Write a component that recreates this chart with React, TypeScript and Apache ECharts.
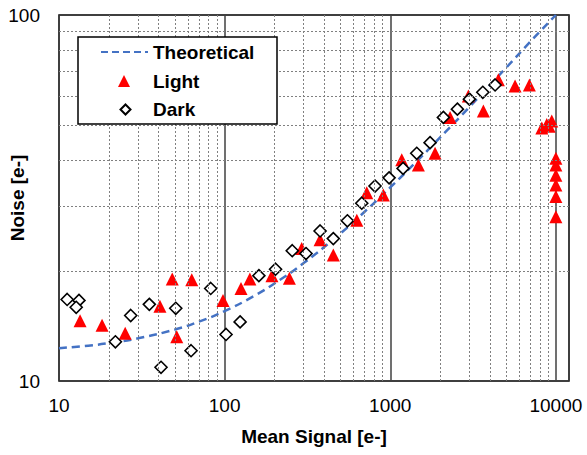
import React, { useEffect, useRef } from "react";
import * as echarts from "echarts";

const theoX = [10, 15, 20, 30, 50, 70, 100, 150, 200, 300, 500, 700, 1000, 1500, 2000, 3000, 5000, 7000, 10000];
const theoY = [12.29, 12.49, 12.69, 13.08, 13.82, 14.53, 15.52, 17.06, 18.47, 21.0, 25.3, 29.0, 33.8, 40.5, 46.3, 56.0, 71.7, 84.5, 100];

const lightX = [13.4, 18.2, 25.1, 40.7, 48.3, 63.3, 51.4, 97.8, 125.6, 142, 193, 246, 292, 377, 453, 628, 721, 908, 1173, 1478, 1865, 2297, 2962, 3650, 4497, 5670, 6918, 8220, 8810, 9440, 9100, 10000, 10000, 10000, 10000, 10000, 10000];
const lightY = [14.6, 14.2, 13.5, 16.0, 19.0, 18.9, 13.2, 16.6, 17.9, 19.0, 19.4, 19.1, 23.0, 24.3, 22.1, 27.5, 32.7, 32.2, 40.2, 38.9, 41.9, 52.5, 60.1, 54.7, 66.5, 64.0, 64.4, 49.1, 50.2, 51.3, 49.7, 40.6, 38.9, 36.5, 34.3, 31.9, 28.1];

const darkX = [11.2, 13.2, 12.7, 27.1, 35.1, 50.7, 21.9, 41.3, 62.7, 82.4, 102, 124, 161, 203, 256, 310, 377, 453, 551, 673, 809, 984, 1195, 1445, 1739, 2093, 2543, 3005, 3620, 4295];
const darkY = [16.7, 16.6, 15.9, 15.1, 16.2, 15.8, 12.8, 10.9, 12.1, 17.9, 13.4, 14.5, 19.4, 20.2, 22.7, 22.3, 25.7, 24.5, 27.4, 30.6, 34.1, 35.9, 38.1, 41.9, 44.8, 52.5, 55.3, 58.9, 61.5, 64.4];

const xMajorLabels = [10, 100, 1000, 10000];
const xMinorGrid = [20, 30, 40, 50, 60, 70, 80, 90, 200, 300, 400, 500, 600, 700, 800, 900, 2000, 3000, 4000, 5000, 6000, 7000, 8000, 9000];
const yMinorGrid = [20, 30, 40, 50, 60, 70, 80, 90];

const FONT = "'Liberation Sans', Arial, sans-serif";
const DASH_ICON =
  "path://M0 0H7V2H0Z M11 0H18V2H11Z M22 0H29V2H22Z M33 0H40V2H33Z M44 0H47V2H44Z";

export default function App() {
  const ref = useRef<HTMLDivElement>(null);
  useEffect(() => {
    document.body.style.margin = "0";
    if (!ref.current) return;
    const chart = echarts.init(ref.current, null, { renderer: "svg" });
    const zip = (xs: number[], ys: number[]) => xs.map((x, i) => [x, ys[i]]);
    const legendText = {
      fontSize: 19,
      fontWeight: "bold",
      color: "#000",
      fontFamily: FONT,
      lineHeight: 20,
    };
    chart.setOption({
      animation: false,
      textStyle: { fontFamily: FONT },
      grid: {
        left: 59,
        right: 18,
        top: 15,
        bottom: 74,
        show: true,
        borderColor: "#000",
        borderWidth: 1.5,
        backgroundColor: "#fff",
        outerBoundsMode: "none",
        containLabel: false,
      },
      graphic: [
        {
          type: "rect",
          z: 10,
          shape: { x: 78, y: 37, width: 199, height: 87 },
          style: { fill: "#fff", stroke: "#000", lineWidth: 1.5 },
        },
      ],
      legend: [
        {
          left: 101,
          top: 42,
          z: 20,
          padding: 0,
          itemWidth: 47,
          itemHeight: 3,
          textStyle: legendText,
          data: [{ name: "Theoretical", icon: DASH_ICON, itemStyle: { color: "#4472C4" } }],
        },
        {
          left: 118,
          top: 71,
          z: 20,
          padding: 0,
          itemWidth: 12,
          itemHeight: 12,
          textStyle: { ...legendText, padding: [0, 0, 0, 18] },
          data: [{ name: "Light", icon: "triangle" }],
        },
        {
          left: 119.5,
          top: 99.5,
          z: 20,
          padding: 0,
          itemWidth: 10,
          itemHeight: 10,
          textStyle: { ...legendText, padding: [0, 0, 0, 17.5] },
          data: [{ name: "Dark", icon: "diamond" }],
        },
      ],
      xAxis: {
        type: "log",
        logBase: 10,
        min: 10,
        max: 12000,
        name: "Mean Signal [e-]",
        nameLocation: "middle",
        nameGap: 46,
        nameMoveOverlap: false,
        nameTextStyle: { fontSize: 19, fontWeight: "bold", color: "#000", fontFamily: FONT },
        axisLine: { show: false },
        axisTick: { show: false },
        axisLabel: {
          fontSize: 19,
          color: "#000",
          margin: 15,
          fontFamily: FONT,
          showMaxLabel: false,
          formatter: (v: number) => {
            const r = Math.round(v);
            return xMajorLabels.includes(r) ? String(r) : "";
          },
        },
        splitLine: { show: true, lineStyle: { color: "#404040", width: 1.5, type: "solid" } },
      },
      yAxis: {
        type: "log",
        logBase: 10,
        min: 10,
        max: 100,
        name: "Noise [e-]",
        nameLocation: "middle",
        nameGap: 32,
        nameMoveOverlap: false,
        nameTextStyle: { fontSize: 19, fontWeight: "bold", color: "#000", fontFamily: FONT },
        axisLine: { show: false },
        axisTick: { show: false },
        axisLabel: { fontSize: 19, color: "#000", margin: 19, fontFamily: FONT },
        splitLine: { show: false },
      },
      series: [
        {
          name: "gridlines",
          type: "line",
          data: [[10, 10]],
          symbol: "none",
          lineStyle: { opacity: 0 },
          silent: true,
          z: 1,
          markLine: {
            silent: true,
            symbol: ["none", "none"],
            label: { show: false },
            animation: false,
            lineStyle: { color: "#808080", width: 1, type: [2, 2] },
            data: [
              ...xMinorGrid.map((v) => ({ xAxis: v })),
              ...yMinorGrid.map((v) => ({ yAxis: v })),
            ],
          },
        },
        {
          name: "Theoretical",
          type: "line",
          data: zip(theoX, theoY),
          smooth: true,
          symbol: "none",
          showSymbol: false,
          z: 2,
          lineStyle: { color: "#4472C4", width: 2.5, type: [8, 5] },
          itemStyle: { color: "#4472C4" },
        },
        {
          name: "Light",
          type: "scatter",
          data: zip(lightX, lightY),
          symbol: "triangle",
          symbolSize: 13,
          z: 3,
          itemStyle: { color: "#FF0000", opacity: 1 },
        },
        {
          name: "Dark",
          type: "scatter",
          data: zip(darkX, darkY),
          symbol: "diamond",
          symbolSize: 12,
          z: 4,
          itemStyle: { color: "#FFFFFF", borderColor: "#000", borderWidth: 1.6, opacity: 1 },
        },
      ],
    });
    return () => chart.dispose();
  }, []);
  return <div ref={ref} style={{ width: 587, height: 455 }} />;
}
